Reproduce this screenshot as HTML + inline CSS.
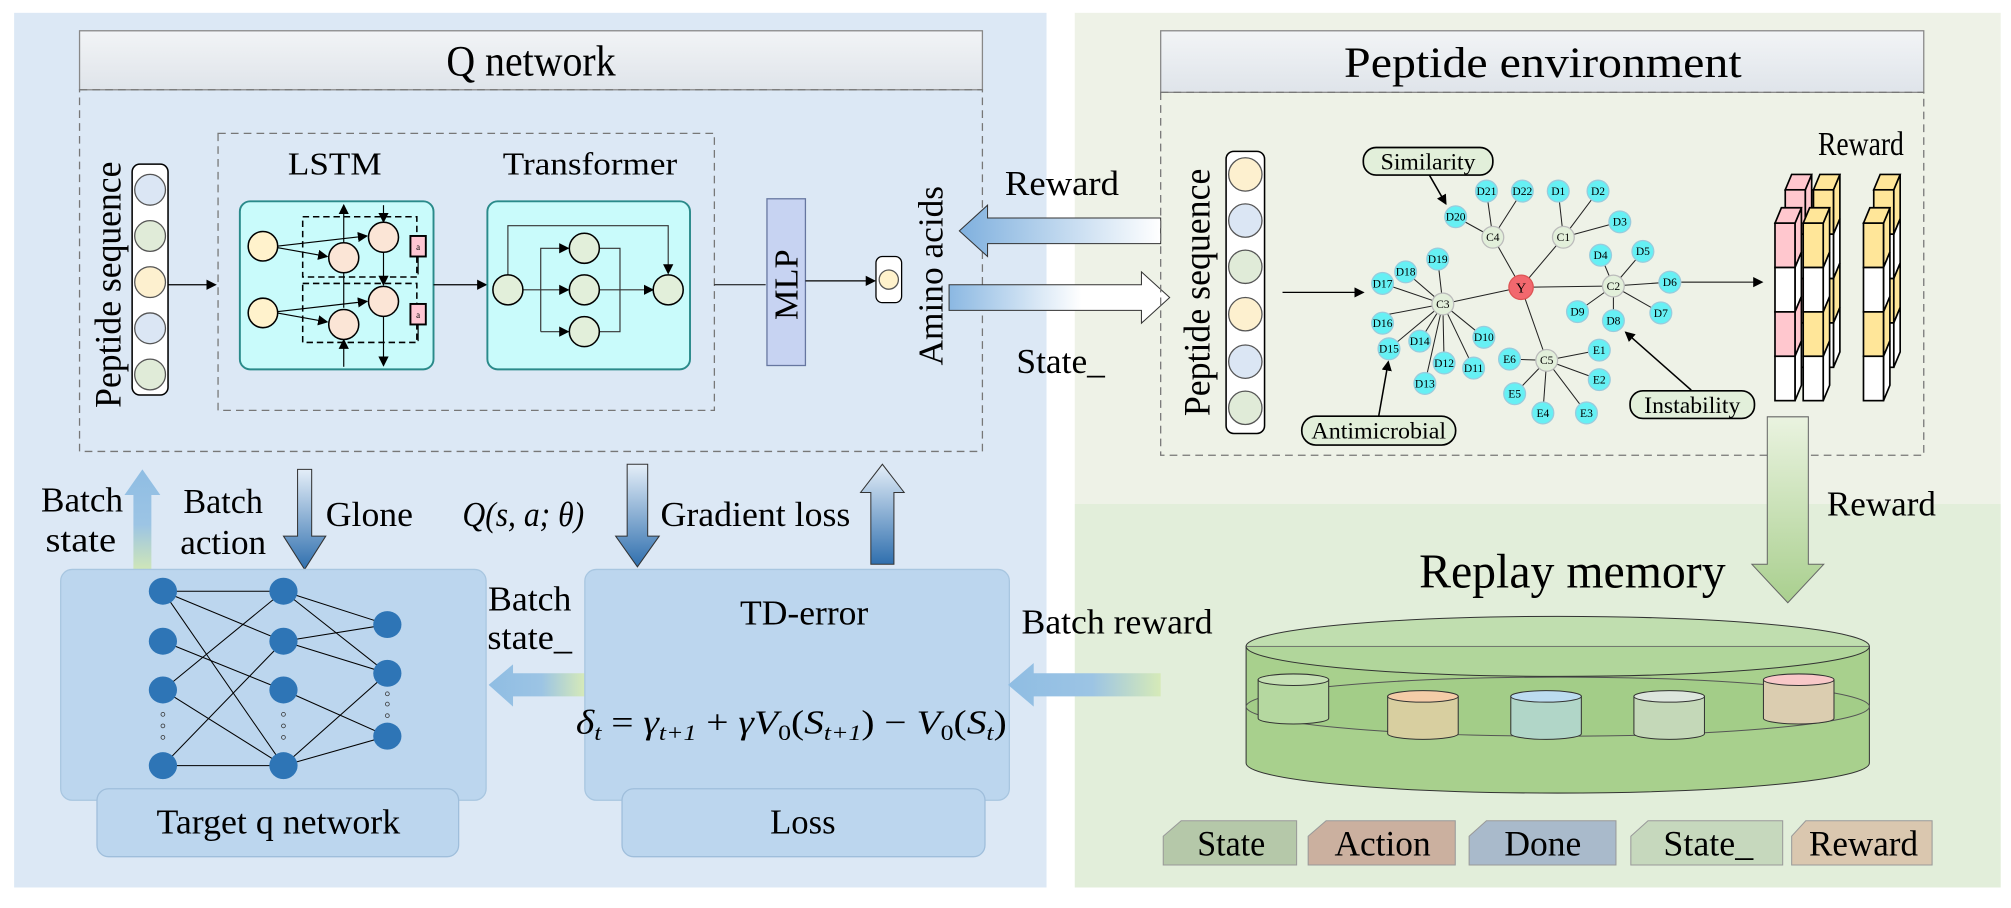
<!DOCTYPE html>
<html><head><meta charset="utf-8"><style>
html,body{margin:0;padding:0;background:#fff;}
svg{display:block;}
text{font-family:"Liberation Serif",serif;fill:#000;}
</style></head><body>
<svg width="2011" height="908" viewBox="0 0 1568 708" xmlns="http://www.w3.org/2000/svg" xmlns:xlink="http://www.w3.org/1999/xlink">
<defs>
<linearGradient id="tg" x1="0" y1="0" x2="0" y2="1"><stop offset="0" stop-color="#f2f4f6"/><stop offset="1" stop-color="#dfe4ea"/></linearGradient>
<linearGradient id="bl" x1="0" y1="0" x2="1" y2="0"><stop offset="0" stop-color="#7fb0de"/><stop offset="1" stop-color="#ffffff"/></linearGradient>
<linearGradient id="bl2" x1="0" y1="0" x2="1" y2="0"><stop offset="0" stop-color="#8bb8e2"/><stop offset="0.6" stop-color="#ffffff"/></linearGradient>
<linearGradient id="vd" x1="0" y1="0" x2="0" y2="1"><stop offset="0" stop-color="#e4eef8"/><stop offset="1" stop-color="#2f6fae"/></linearGradient>
<linearGradient id="vu" x1="0" y1="1" x2="0" y2="0"><stop offset="0" stop-color="#2f6fae"/><stop offset="1" stop-color="#e4eef8"/></linearGradient>
<linearGradient id="bs" x1="0" y1="0" x2="0" y2="1"><stop offset="0" stop-color="#8fbde3"/><stop offset="0.55" stop-color="#9cc4e4"/><stop offset="1" stop-color="#cfe6b8"/></linearGradient>
<linearGradient id="hs" x1="0" y1="0" x2="1" y2="0"><stop offset="0" stop-color="#8fbde3"/><stop offset="0.55" stop-color="#9cc4e4"/><stop offset="1" stop-color="#d6eab8"/></linearGradient>
<linearGradient id="gd" x1="0" y1="0" x2="0" y2="1"><stop offset="0" stop-color="#eaf3e0"/><stop offset="1" stop-color="#a9cf8e"/></linearGradient>
<marker id="ar" markerWidth="8" markerHeight="8" refX="7" refY="4" orient="auto" markerUnits="userSpaceOnUse"><path d="M0,0 L8,4 L0,8 z" fill="#000"/></marker>
<g id="colP" stroke="#000" stroke-width="1.3">
<path d="M15.6,0 l5,-12 v34.6 l-5,12 z" fill="#ffc7ce"/><path d="M15.6,34.6 l5,-12 v34.6 l-5,12 z" fill="#fff"/><path d="M15.6,69.2 l5,-12 v34.6 l-5,12 z" fill="#ffc7ce"/><path d="M15.6,103.8 l5,-12 v34.6 l-5,12 z" fill="#fff"/>
<path d="M0,0 l5,-12 h15.6 l-5,12 z" fill="#ffc7ce"/>
<rect x="0" y="0" width="15.6" height="34.6" fill="#ffc7ce"/><rect x="0" y="34.6" width="15.6" height="34.6" fill="#fff"/><rect x="0" y="69.2" width="15.6" height="34.6" fill="#ffc7ce"/><rect x="0" y="103.8" width="15.6" height="34.6" fill="#fff"/>
</g>
<g id="colY" stroke="#000" stroke-width="1.3">
<path d="M15.6,0 l5,-12 v34.6 l-5,12 z" fill="#ffe699"/><path d="M15.6,34.6 l5,-12 v34.6 l-5,12 z" fill="#fff"/><path d="M15.6,69.2 l5,-12 v34.6 l-5,12 z" fill="#ffe699"/><path d="M15.6,103.8 l5,-12 v34.6 l-5,12 z" fill="#fff"/>
<path d="M0,0 l5,-12 h15.6 l-5,12 z" fill="#ffe699"/>
<rect x="0" y="0" width="15.6" height="34.6" fill="#ffe699"/><rect x="0" y="34.6" width="15.6" height="34.6" fill="#fff"/><rect x="0" y="69.2" width="15.6" height="34.6" fill="#ffe699"/><rect x="0" y="103.8" width="15.6" height="34.6" fill="#fff"/>
</g>
</defs>

<!-- panels -->
<rect x="11" y="10" width="805" height="682" fill="#dce8f5"/>
<rect x="838" y="10" width="722" height="383" fill="#eef2e7"/>
<rect x="838" y="393" width="722" height="299" fill="#e2eeda"/>

<!-- Q network title -->
<rect x="62" y="24" width="704" height="46" fill="url(#tg)" stroke="#888" stroke-width="1"/>
<text x="414" y="59" font-size="34" text-anchor="middle" textLength="132" lengthAdjust="spacingAndGlyphs">Q network</text>
<rect x="62" y="70" width="704" height="282" fill="none" stroke="#777" stroke-dasharray="6,4"/>
<rect x="170" y="104" width="387" height="216" fill="none" stroke="#777" stroke-dasharray="6,4"/>

<!-- peptide seq left -->
<text transform="translate(94,222) rotate(-90)" font-size="29" text-anchor="middle" textLength="192" lengthAdjust="spacingAndGlyphs">Peptide sequence</text>
<rect x="103" y="128" width="28" height="180" rx="6" fill="#fff" stroke="#000" stroke-width="1.2"/>
<circle cx="117" cy="148" r="12" fill="#dbe6f4" stroke="#555"/>
<circle cx="117" cy="184" r="12" fill="#e0ebd8" stroke="#555"/>
<circle cx="117" cy="220" r="12" fill="#fdf0cf" stroke="#555"/>
<circle cx="117" cy="256" r="12" fill="#dbe6f4" stroke="#555"/>
<circle cx="117" cy="292" r="12" fill="#e0ebd8" stroke="#555"/>
<line x1="131" y1="222" x2="168" y2="222" stroke="#000" marker-end="url(#ar)"/>

<text x="261" y="136" font-size="25" text-anchor="middle" textLength="73" lengthAdjust="spacingAndGlyphs">LSTM</text>
<text x="460" y="136" font-size="25" text-anchor="middle" textLength="136" lengthAdjust="spacingAndGlyphs">Transformer</text>

<!-- LSTM box -->
<rect x="187" y="157" width="151" height="131" rx="8" fill="#c9fbfb" stroke="#2a8a8a" stroke-width="1.5"/>
<rect x="236" y="169" width="89" height="47" fill="none" stroke="#000" stroke-dasharray="5,3" stroke-width="1.2"/>
<rect x="236" y="221" width="89" height="46" fill="none" stroke="#000" stroke-dasharray="5,3" stroke-width="1.2"/>
<g stroke="#000" stroke-width="0.9">
<line x1="268" y1="240" x2="268" y2="160" marker-end="url(#ar)"/>
<line x1="299" y1="160" x2="299" y2="173" marker-end="url(#ar)"/>
<line x1="299" y1="197" x2="299" y2="222" marker-end="url(#ar)"/>
<line x1="299" y1="247" x2="299" y2="285" marker-end="url(#ar)"/>
<line x1="268" y1="286" x2="268" y2="265" marker-end="url(#ar)"/>
<line x1="216" y1="192" x2="286" y2="184" marker-end="url(#ar)"/>
<line x1="216" y1="193" x2="255" y2="200" marker-end="url(#ar)"/>
<line x1="216" y1="243" x2="286" y2="235" marker-end="url(#ar)"/>
<line x1="216" y1="244" x2="255" y2="251" marker-end="url(#ar)"/>
<line x1="326" y1="200" x2="326" y2="214"/>
<line x1="326" y1="253" x2="326" y2="266"/>
</g>
<g stroke="#000" stroke-width="1.2">
<circle cx="205" cy="192" r="11.5" fill="#fff2cc"/>
<circle cx="205" cy="244" r="11.5" fill="#fff2cc"/>
<circle cx="268" cy="201" r="11.7" fill="#fbe5d6"/>
<circle cx="299" cy="185" r="11.7" fill="#fbe5d6"/>
<circle cx="268" cy="253" r="11.7" fill="#fbe5d6"/>
<circle cx="299" cy="235" r="11.7" fill="#fbe5d6"/>
<rect x="320" y="184" width="12" height="16" fill="#ffc7d3" stroke-width="1.5"/>
<rect x="320" y="237" width="12" height="16" fill="#ffc7d3" stroke-width="1.5"/>
</g>
<text x="326" y="195" font-size="7" text-anchor="middle" font-family="Liberation Sans">a</text>
<text x="326" y="248" font-size="7" text-anchor="middle" font-family="Liberation Sans">a</text>
<line x1="338" y1="222" x2="379" y2="222" stroke="#000" marker-end="url(#ar)"/>

<!-- Transformer box -->
<rect x="380" y="157" width="158" height="131" rx="8" fill="#c9fbfb" stroke="#2a8a8a" stroke-width="1.5"/>
<g stroke="#333" fill="none" stroke-width="0.9">
<polyline points="396,214 396,176 521,176 521,213" marker-end="url(#ar)"/>
<line x1="408" y1="226" x2="443" y2="226" marker-end="url(#ar)"/>
<polyline points="421.6,258.6 421.6,193.6 443,193.6" marker-end="url(#ar)"/>
<line x1="421.6" y1="258.6" x2="443" y2="258.6" marker-end="url(#ar)"/>
<polyline points="467,193.6 483.4,193.6 483.4,258.6 467,258.6"/>
<line x1="467" y1="226" x2="509" y2="226" marker-end="url(#ar)"/>
</g>
<g stroke="#000" stroke-width="1.2" fill="#e2efda">
<circle cx="396" cy="226" r="11.7"/>
<circle cx="455.6" cy="193.6" r="11.7"/>
<circle cx="455.6" cy="226" r="11.7"/>
<circle cx="455.6" cy="258.6" r="11.7"/>
<circle cx="521" cy="226" r="11.7"/>
</g>

<line x1="557" y1="222" x2="597" y2="222" stroke="#000" stroke-width="0.8"/>
<rect x="598" y="155" width="30" height="130" fill="#c7d3f2" stroke="#6676a0"/>
<text transform="translate(622,222) rotate(-90)" font-size="26" text-anchor="middle" textLength="55" lengthAdjust="spacingAndGlyphs">MLP</text>
<line x1="628" y1="219" x2="682" y2="219" stroke="#000" marker-end="url(#ar)"/>
<rect x="683" y="200" width="20" height="36" rx="5" fill="#fff" stroke="#000"/>
<circle cx="693" cy="218" r="7.5" fill="#fff2cc" stroke="#555"/>
<text transform="translate(735,215) rotate(-90)" font-size="27" text-anchor="middle" textLength="140" lengthAdjust="spacingAndGlyphs">Amino acids</text>

<!-- middle arrows -->
<text x="828" y="152" font-size="27" text-anchor="middle" textLength="89" lengthAdjust="spacingAndGlyphs">Reward</text>
<path d="M905,170 L905,190 L770,190 L770,200 L748,180 L770,160 L770,170 Z" fill="url(#bl)" stroke="#333" stroke-width="0.8"/>
<path d="M740,222 L890,222 L890,212 L912,232 L890,252 L890,242 L740,242 Z" fill="url(#bl2)" stroke="#333" stroke-width="0.8"/>
<text x="827" y="291" font-size="27" text-anchor="middle" textLength="69" lengthAdjust="spacingAndGlyphs">State_</text>

<!-- Peptide environment -->
<rect x="905" y="24" width="595" height="48" fill="url(#tg)" stroke="#888"/>
<text x="1203" y="60" font-size="34" text-anchor="middle" textLength="310" lengthAdjust="spacingAndGlyphs">Peptide environment</text>
<rect x="905" y="72" width="595" height="283" fill="none" stroke="#777" stroke-dasharray="6,4"/>
<text transform="translate(943,228) rotate(-90)" font-size="29" text-anchor="middle" textLength="193" lengthAdjust="spacingAndGlyphs">Peptide sequence</text>
<rect x="956" y="118" width="30" height="220" rx="6" fill="#fff" stroke="#000" stroke-width="1.2"/>
<circle cx="971" cy="136" r="13" fill="#fdf0cf" stroke="#555"/>
<circle cx="971" cy="172" r="13" fill="#dbe6f4" stroke="#555"/>
<circle cx="971" cy="208" r="13" fill="#e0ebd8" stroke="#555"/>
<circle cx="971" cy="245" r="13" fill="#fdf0cf" stroke="#555"/>
<circle cx="971" cy="282" r="13" fill="#dbe6f4" stroke="#555"/>
<circle cx="971" cy="318" r="13" fill="#e0ebd8" stroke="#555"/>
<line x1="1000" y1="228" x2="1063" y2="228" stroke="#000" marker-end="url(#ar)"/>

<!-- graph edges -->
<g stroke="#222" stroke-width="0.8">
<line x1="1186" y1="224" x2="1164" y2="185"/><line x1="1186" y1="224" x2="1219" y2="185"/>
<line x1="1186" y1="224" x2="1258" y2="223"/><line x1="1186" y1="224" x2="1125" y2="237"/>
<line x1="1186" y1="224" x2="1206" y2="281"/>
<line x1="1164" y1="185" x2="1159" y2="149"/><line x1="1164" y1="185" x2="1187" y2="149"/><line x1="1164" y1="185" x2="1135" y2="169"/>
<line x1="1219" y1="185" x2="1215" y2="149"/><line x1="1219" y1="185" x2="1246" y2="149"/><line x1="1219" y1="185" x2="1263" y2="173"/>
<line x1="1258" y1="223" x2="1248" y2="199"/><line x1="1258" y1="223" x2="1281" y2="196"/><line x1="1258" y1="223" x2="1302" y2="220"/>
<line x1="1258" y1="223" x2="1295" y2="244"/><line x1="1258" y1="223" x2="1258" y2="250"/><line x1="1258" y1="223" x2="1230" y2="243"/>
<line x1="1125" y1="237" x2="1121" y2="202"/><line x1="1125" y1="237" x2="1096" y2="212"/><line x1="1125" y1="237" x2="1078" y2="221"/>
<line x1="1125" y1="237" x2="1078" y2="246"/><line x1="1125" y1="237" x2="1083" y2="272"/><line x1="1125" y1="237" x2="1107" y2="266"/>
<line x1="1125" y1="237" x2="1126" y2="283"/><line x1="1125" y1="237" x2="1111" y2="299"/><line x1="1125" y1="237" x2="1149" y2="287"/><line x1="1125" y1="237" x2="1157" y2="263"/>
<line x1="1206" y1="281" x2="1177" y2="280"/><line x1="1206" y1="281" x2="1247" y2="273"/><line x1="1206" y1="281" x2="1247" y2="296"/>
<line x1="1206" y1="281" x2="1237" y2="322"/><line x1="1206" y1="281" x2="1203" y2="322"/><line x1="1206" y1="281" x2="1181" y2="307"/>
</g>
<g font-size="9" text-anchor="middle">
<g fill="#66f0f4" stroke="#9cd">
<circle cx="1159" cy="149" r="8.5"/><circle cx="1187" cy="149" r="8.5"/><circle cx="1215" cy="149" r="8.5"/><circle cx="1246" cy="149" r="8.5"/>
<circle cx="1263" cy="173" r="8.5"/><circle cx="1135" cy="169" r="8.5"/><circle cx="1248" cy="199" r="8.5"/><circle cx="1281" cy="196" r="8.5"/>
<circle cx="1302" cy="220" r="8.5"/><circle cx="1295" cy="244" r="8.5"/><circle cx="1258" cy="250" r="8.5"/><circle cx="1230" cy="243" r="8.5"/>
<circle cx="1121" cy="202" r="8.5"/><circle cx="1096" cy="212" r="8.5"/><circle cx="1078" cy="221" r="8.5"/><circle cx="1078" cy="252" r="8.5"/>
<circle cx="1083" cy="272" r="8.5"/><circle cx="1107" cy="266" r="8.5"/><circle cx="1126" cy="283" r="8.5"/><circle cx="1111" cy="299" r="8.5"/>
<circle cx="1149" cy="287" r="8.5"/><circle cx="1157" cy="263" r="8.5"/>
<circle cx="1177" cy="280" r="8.5"/><circle cx="1247" cy="273" r="8.5"/><circle cx="1247" cy="296" r="8.5"/><circle cx="1237" cy="322" r="8.5"/><circle cx="1203" cy="322" r="8.5"/><circle cx="1181" cy="307" r="8.5"/>
</g>
<g fill="#e2efda" stroke="#bbb"><circle cx="1164" cy="185" r="8.5"/><circle cx="1219" cy="185" r="8.5"/><circle cx="1258" cy="223" r="8.5"/><circle cx="1125" cy="237" r="8.5"/><circle cx="1206" cy="281" r="8.5"/></g>
<circle cx="1186" cy="224" r="9.5" fill="#f2686e" stroke="#d55"/>
<text x="1159" y="152">D21</text><text x="1187" y="152">D22</text><text x="1215" y="152">D1</text><text x="1246" y="152">D2</text>
<text x="1263" y="176">D3</text><text x="1135" y="172">D20</text><text x="1248" y="202">D4</text><text x="1281" y="199">D5</text>
<text x="1302" y="223">D6</text><text x="1295" y="247">D7</text><text x="1258" y="253">D8</text><text x="1230" y="246">D9</text>
<text x="1121" y="205">D19</text><text x="1096" y="215">D18</text><text x="1078" y="224">D17</text><text x="1078" y="255">D16</text>
<text x="1083" y="275">D15</text><text x="1107" y="269">D14</text><text x="1126" y="286">D12</text><text x="1111" y="302">D13</text>
<text x="1149" y="290">D11</text><text x="1157" y="266">D10</text>
<text x="1177" y="283">E6</text><text x="1247" y="276">E1</text><text x="1247" y="299">E2</text><text x="1237" y="325">E3</text><text x="1203" y="325">E4</text><text x="1181" y="310">E5</text>
<text x="1164" y="188">C4</text><text x="1219" y="188">C1</text><text x="1258" y="226">C2</text><text x="1125" y="240">C3</text><text x="1206" y="284">C5</text>
<text x="1186" y="228" font-size="11">Y</text>
</g>
<!-- labels -->
<rect x="1063" y="115" width="101" height="21.5" rx="10" fill="#e2efda" stroke="#000" stroke-width="1.3"/>
<text x="1113.5" y="132" font-size="18" text-anchor="middle" textLength="74" lengthAdjust="spacingAndGlyphs">Similarity</text>
<rect x="1015" y="324.5" width="120" height="22.5" rx="11" fill="#e2efda" stroke="#000" stroke-width="1.3"/>
<text x="1075" y="342" font-size="18" text-anchor="middle" textLength="105" lengthAdjust="spacingAndGlyphs">Antimicrobial</text>
<rect x="1271" y="304.7" width="97" height="21.6" rx="10" fill="#e2efda" stroke="#000" stroke-width="1.3"/>
<text x="1319.5" y="322" font-size="18" text-anchor="middle" textLength="75" lengthAdjust="spacingAndGlyphs">Instability</text>
<g stroke="#000" stroke-width="1.2">
<line x1="1114.5" y1="136.5" x2="1127.4" y2="159" marker-end="url(#ar)"/>
<line x1="1075" y1="324.5" x2="1082.5" y2="282" marker-end="url(#ar)"/>
<line x1="1318.7" y1="304.2" x2="1267.5" y2="259" marker-end="url(#ar)"/>
<line x1="1311" y1="220" x2="1374" y2="220" stroke-width="0.8" marker-end="url(#ar)"/>
</g>

<!-- Reward stack -->
<text x="1451" y="121" font-size="26" text-anchor="middle" textLength="67" lengthAdjust="spacingAndGlyphs">Reward</text>
<use xlink:href="#colP" x="1392" y="148"/>
<use xlink:href="#colY" x="1414" y="148"/>
<use xlink:href="#colY" x="1461" y="148"/>
<use xlink:href="#colP" x="1384" y="174"/>
<use xlink:href="#colY" x="1406" y="174"/>
<use xlink:href="#colY" x="1453" y="174"/>

<!-- Reward down arrow -->
<path d="M1378,325 L1410,325 L1410,440 L1422,440 L1394,470 L1366,440 L1378,440 Z" fill="url(#gd)" stroke="#666" stroke-width="0.8"/>
<text x="1467" y="402" font-size="27" text-anchor="middle" textLength="85" lengthAdjust="spacingAndGlyphs">Reward</text>

<!-- Replay memory -->
<text x="1226" y="458" font-size="38" text-anchor="middle" textLength="239" lengthAdjust="spacingAndGlyphs">Replay memory</text>
<path d="M971.6,504 L971.6,595 A243,23.4 0 0 0 1457.6,595 L1457.6,504 Z" fill="#a8d08d" stroke="#333" stroke-width="0.8"/>
<ellipse cx="1214.6" cy="551" rx="243" ry="23" fill="#a3cd88" stroke="#555" stroke-width="0.8"/>
<g stroke="#333" stroke-width="0.8">
<path d="M981,530 L981,560 A27.5,4.5 0 0 0 1036,560 L1036,530 Z" fill="#b5d8a0"/><ellipse cx="1008.5" cy="530" rx="27.5" ry="4.5" fill="#c5e0b4"/>
<path d="M1082,543 L1082,572 A27.5,4.5 0 0 0 1137,572 L1137,543 Z" fill="#d8cfa0"/><ellipse cx="1109.5" cy="543" rx="27.5" ry="4.5" fill="#f4cca8"/>
<path d="M1178,543 L1178,572 A27.5,4.5 0 0 0 1233,572 L1233,543 Z" fill="#b1d6c8"/><ellipse cx="1205.5" cy="543" rx="27.5" ry="4.5" fill="#bcdcf0"/>
<path d="M1274,543 L1274,572 A27.5,4.5 0 0 0 1329,572 L1329,543 Z" fill="#c4d8b8"/><ellipse cx="1301.5" cy="543" rx="27.5" ry="4.5" fill="#dde6dd"/>
<path d="M1375,530 L1375,560 A27.5,4.5 0 0 0 1430,560 L1430,530 Z" fill="#dbcdb0"/><ellipse cx="1402.5" cy="530" rx="27.5" ry="4.5" fill="#f8c8c8"/>
</g>
<ellipse cx="1214.6" cy="504" rx="243" ry="23.4" fill="#b4d8a0" fill-opacity="0.75" stroke="#333" stroke-width="0.8"/>
<line x1="971.6" y1="504" x2="1457.6" y2="504" stroke="#666" stroke-width="0.6"/>

<!-- legend -->
<g stroke="#999" stroke-width="0.8">
<path d="M921,640 L1011,640 L1011,674.5 L907,674.5 L907,652 Z" fill="#b5c8a9"/>
<path d="M1034,640 L1134.7,640 L1134.7,674.5 L1020,674.5 L1020,652 Z" fill="#cbb09f"/>
<path d="M1159,640 L1260,640 L1260,674.5 L1145.5,674.5 L1145.5,652 Z" fill="#a9bacb"/>
<path d="M1285,640 L1390,640 L1390,674.5 L1271.6,674.5 L1271.6,652 Z" fill="#c6d8bd"/>
<path d="M1408,640 L1506.5,640 L1506.5,674.5 L1397,674.5 L1397,652 Z" fill="#dac7af"/>
</g>
<g font-size="28" text-anchor="middle">
<text x="960" y="667" textLength="53" lengthAdjust="spacingAndGlyphs">State</text>
<text x="1078" y="667" textLength="75" lengthAdjust="spacingAndGlyphs">Action</text>
<text x="1203" y="667" textLength="60" lengthAdjust="spacingAndGlyphs">Done</text>
<text x="1332" y="667" textLength="70" lengthAdjust="spacingAndGlyphs">State_</text>
<text x="1453" y="667" textLength="85" lengthAdjust="spacingAndGlyphs">Reward</text>
</g>

<!-- bottom-left: top arrows -->
<path d="M104,444 L104,386 L97,386 L111,366 L125,386 L118,386 L118,444 Z" fill="url(#bs)"/>
<text x="64" y="399" font-size="27" text-anchor="middle" textLength="64" lengthAdjust="spacingAndGlyphs">Batch</text>
<text x="63" y="430" font-size="27" text-anchor="middle" textLength="55" lengthAdjust="spacingAndGlyphs">state</text>
<text x="174" y="400" font-size="27" text-anchor="middle" textLength="62" lengthAdjust="spacingAndGlyphs">Batch</text>
<text x="174" y="432" font-size="27" text-anchor="middle" textLength="67" lengthAdjust="spacingAndGlyphs">action</text>
<path d="M232,366 L243,366 L243,418 L254,418 L237.5,444 L221,418 L232,418 Z" fill="url(#vd)" stroke="#333" stroke-width="0.8"/>
<text x="288" y="410" font-size="27" text-anchor="middle" textLength="68" lengthAdjust="spacingAndGlyphs">Glone</text>
<text x="408" y="410" font-size="27" text-anchor="middle" font-style="italic" textLength="95" lengthAdjust="spacingAndGlyphs">Q(s, a; θ)</text>
<path d="M489,362 L505,362 L505,418 L514,418 L497,442 L480,418 L489,418 Z" fill="url(#vd)" stroke="#333" stroke-width="0.8"/>
<text x="589" y="410" font-size="27" text-anchor="middle" textLength="148" lengthAdjust="spacingAndGlyphs">Gradient loss</text>
<path d="M679,440 L697,440 L697,384 L705,384 L688,362 L671,384 L679,384 Z" fill="url(#vu)" stroke="#333" stroke-width="0.8"/>

<!-- Target q network -->
<rect x="47.3" y="444" width="331.7" height="180" rx="9" fill="#bcd6ee" stroke="#a8c6e0"/>
<rect x="75.6" y="615" width="282" height="53" rx="9" fill="#bcd6ee" stroke="#9fbedb"/>
<text x="217" y="650" font-size="27" text-anchor="middle" textLength="190" lengthAdjust="spacingAndGlyphs">Target q network</text>
<g stroke="#000" stroke-width="0.8">
<line x1="127" y1="461" x2="221" y2="461"/><line x1="127" y1="461" x2="221" y2="500"/><line x1="127" y1="461" x2="221" y2="597"/>
<line x1="127" y1="500" x2="221" y2="538"/><line x1="127" y1="538" x2="221" y2="461"/><line x1="127" y1="538" x2="221" y2="597"/>
<line x1="127" y1="597" x2="221" y2="597"/><line x1="127" y1="597" x2="221" y2="500"/>
<line x1="221" y1="461" x2="302" y2="487"/><line x1="221" y1="461" x2="302" y2="525"/>
<line x1="221" y1="500" x2="302" y2="487"/><line x1="221" y1="500" x2="302" y2="525"/>
<line x1="221" y1="538" x2="302" y2="574"/>
<line x1="221" y1="597" x2="302" y2="525"/><line x1="221" y1="597" x2="302" y2="574"/>
</g>
<g fill="#2e75b6">
<ellipse cx="127" cy="461" rx="11" ry="10.5"/><ellipse cx="127" cy="500" rx="11" ry="10.5"/><ellipse cx="127" cy="538" rx="11" ry="10.5"/><ellipse cx="127" cy="597" rx="11" ry="10.5"/>
<ellipse cx="221" cy="461" rx="11" ry="10.5"/><ellipse cx="221" cy="500" rx="11" ry="10.5"/><ellipse cx="221" cy="538" rx="11" ry="10.5"/><ellipse cx="221" cy="597" rx="11" ry="10.5"/>
<ellipse cx="302" cy="487" rx="11" ry="10.5"/><ellipse cx="302" cy="525" rx="11" ry="10.5"/><ellipse cx="302" cy="574" rx="11" ry="10.5"/>
</g>
<g fill="none" stroke="#333" stroke-width="0.6">
<circle cx="127" cy="557" r="1.5"/><circle cx="127" cy="566" r="1.5"/><circle cx="127" cy="575" r="1.5"/>
<circle cx="221" cy="557" r="1.5"/><circle cx="221" cy="566" r="1.5"/><circle cx="221" cy="575" r="1.5"/>
<circle cx="302" cy="541" r="1.5"/><circle cx="302" cy="549" r="1.5"/><circle cx="302" cy="558" r="1.5"/>
</g>

<!-- batch state_ arrow -->
<text x="413" y="476" font-size="27" text-anchor="middle" textLength="65" lengthAdjust="spacingAndGlyphs">Batch</text>
<text x="413" y="506" font-size="27" text-anchor="middle" textLength="66" lengthAdjust="spacingAndGlyphs">state_</text>
<path d="M456,525 L400,525 L400,518 L381,534 L400,551 L400,543 L456,543 Z" fill="url(#hs)"/>

<!-- TD-error / Loss -->
<rect x="456" y="444" width="331" height="180" rx="9" fill="#bcd6ee" stroke="#a8c6e0"/>
<rect x="485" y="615" width="283" height="53" rx="9" fill="#bcd6ee" stroke="#9fbedb"/>
<text x="626" y="650" font-size="27" text-anchor="middle" textLength="51" lengthAdjust="spacingAndGlyphs">Loss</text>
<text x="627" y="487" font-size="27" text-anchor="middle" textLength="100" lengthAdjust="spacingAndGlyphs">TD-error</text>
<text x="449" y="572" font-size="26" textLength="336" lengthAdjust="spacingAndGlyphs"><tspan font-style="italic">δ</tspan><tspan font-style="italic" font-size="17" dy="5">t</tspan><tspan dy="-5"> = </tspan><tspan font-style="italic">γ</tspan><tspan font-style="italic" font-size="17" dy="5">t+1</tspan><tspan dy="-5"> + </tspan><tspan font-style="italic">γV</tspan><tspan font-size="17" dy="5">0</tspan><tspan dy="-5">(</tspan><tspan font-style="italic">S</tspan><tspan font-style="italic" font-size="17" dy="5">t+1</tspan><tspan dy="-5">) − </tspan><tspan font-style="italic">V</tspan><tspan font-size="17" dy="5">0</tspan><tspan dy="-5">(</tspan><tspan font-style="italic">S</tspan><tspan font-style="italic" font-size="17" dy="5">t</tspan><tspan dy="-5">)</tspan></text>

<!-- batch reward -->
<text x="871" y="494" font-size="27" text-anchor="middle" textLength="149" lengthAdjust="spacingAndGlyphs">Batch reward</text>
<path d="M905,525 L806,525 L806,517 L786,534 L806,551 L806,543 L905,543 Z" fill="url(#hs)"/>
</svg>
</body></html>
